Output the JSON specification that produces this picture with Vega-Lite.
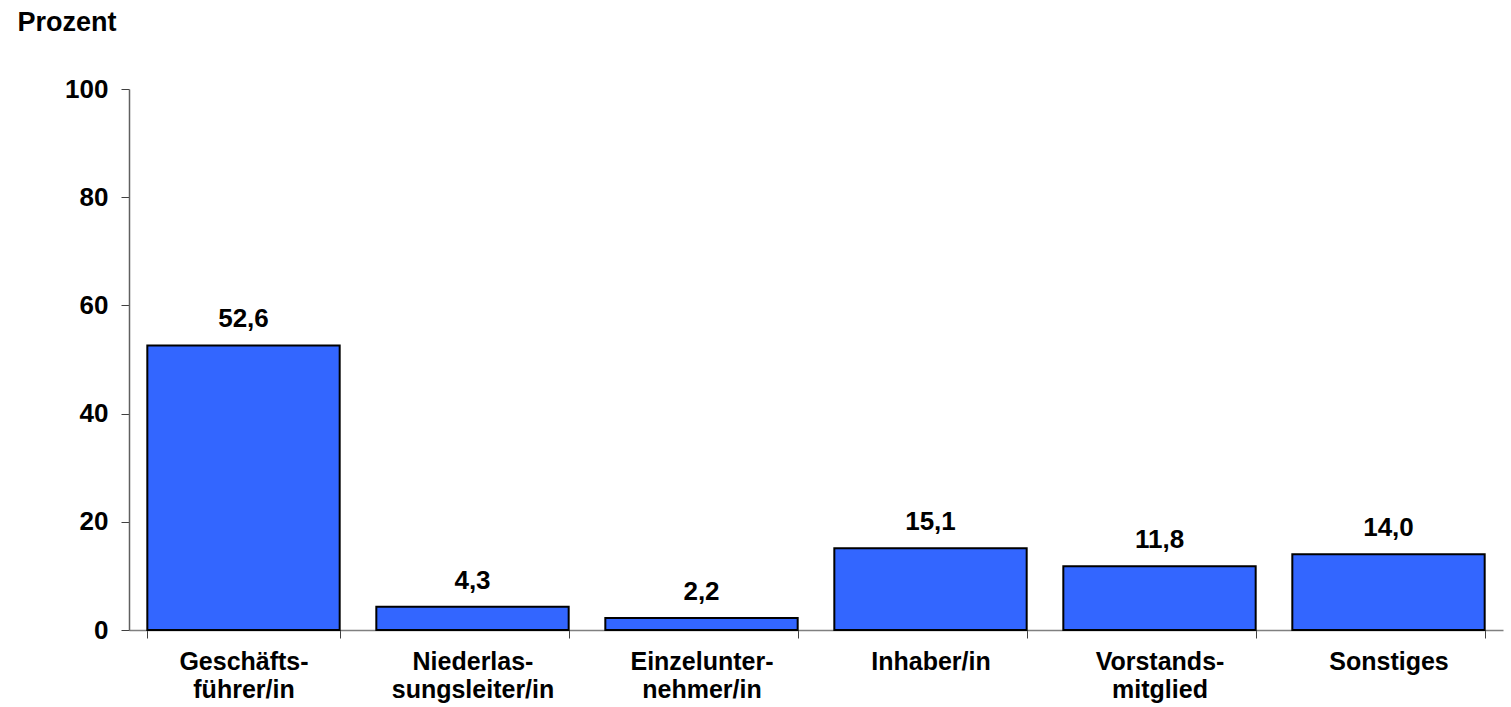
{
  "$schema": "https://vega.github.io/schema/vega-lite/v6.json",
  "width": 1374,
  "height": 541,
  "autosize": {"type": "none"},
  "padding": {"left": 129, "top": 89, "right": 8, "bottom": 77},
  "background": "white",
  "config": {
    "view": {"stroke": null},
    "font": "Liberation Sans",
    "locale": {"number": {"decimal": ",", "thousands": ".", "grouping": [3], "currency": ["", " €"]}}
  },
  "data": {
    "values": [
      {"kategorie": "Geschäfts-|führer/in", "prozent": 52.6},
      {"kategorie": "Niederlas-|sungsleiter/in", "prozent": 4.3},
      {"kategorie": "Einzelunter-|nehmer/in", "prozent": 2.2},
      {"kategorie": "Inhaber/in", "prozent": 15.1},
      {"kategorie": "Vorstands-|mitglied", "prozent": 11.8},
      {"kategorie": "Sonstiges", "prozent": 14.0}
    ]
  },
  "encoding": {
    "x": {
      "field": "kategorie",
      "type": "nominal",
      "sort": null,
      "scale": {"paddingInner": 0.16, "paddingOuter": 0.08},
      "axis": {
        "title": null,
        "labelAngle": 0,
        "labelExpr": "split(datum.label, '|')",
        "labelFont": "Liberation Sans",
        "labelFontSize": 25,
        "labelFontWeight": "bold",
        "labelColor": "black",
        "labelLineHeight": 28,
        "labelPadding": 11,
        "labelBaseline": "top",
        "tickBand": "extent",
        "tickSize": 8,
        "tickColor": "#404040",
        "domainColor": "#808080",
        "domainWidth": 1.5,
        "ticks": true
      }
    },
    "y": {
      "field": "prozent",
      "type": "quantitative",
      "scale": {"domain": [0, 100], "nice": false},
      "axis": {
        "values": [0, 20, 40, 60, 80, 100],
        "grid": false,
        "title": "Prozent",
        "titleAngle": 0,
        "titleX": -112,
        "titleY": -67,
        "titleAlign": "left",
        "titleBaseline": "middle",
        "titleFont": "Liberation Sans",
        "titleFontSize": 27,
        "titleFontWeight": "bold",
        "titleColor": "black",
        "labelFont": "Liberation Sans",
        "labelFontSize": 26,
        "labelFontWeight": "bold",
        "labelColor": "black",
        "labelPadding": 13,
        "tickSize": 8,
        "tickColor": "#404040",
        "domainColor": "#606060",
        "domainWidth": 1.5
      }
    }
  },
  "layer": [
    {
      "mark": {"type": "bar", "color": "#3366FF", "stroke": "black", "strokeWidth": 2}
    },
    {
      "mark": {"type": "text", "baseline": "alphabetic", "dy": -18, "font": "Liberation Sans", "fontSize": 26, "fontWeight": "bold", "color": "black"},
      "encoding": {
        "text": {"field": "prozent", "type": "quantitative", "format": ".1f"}
      }
    }
  ]
}
